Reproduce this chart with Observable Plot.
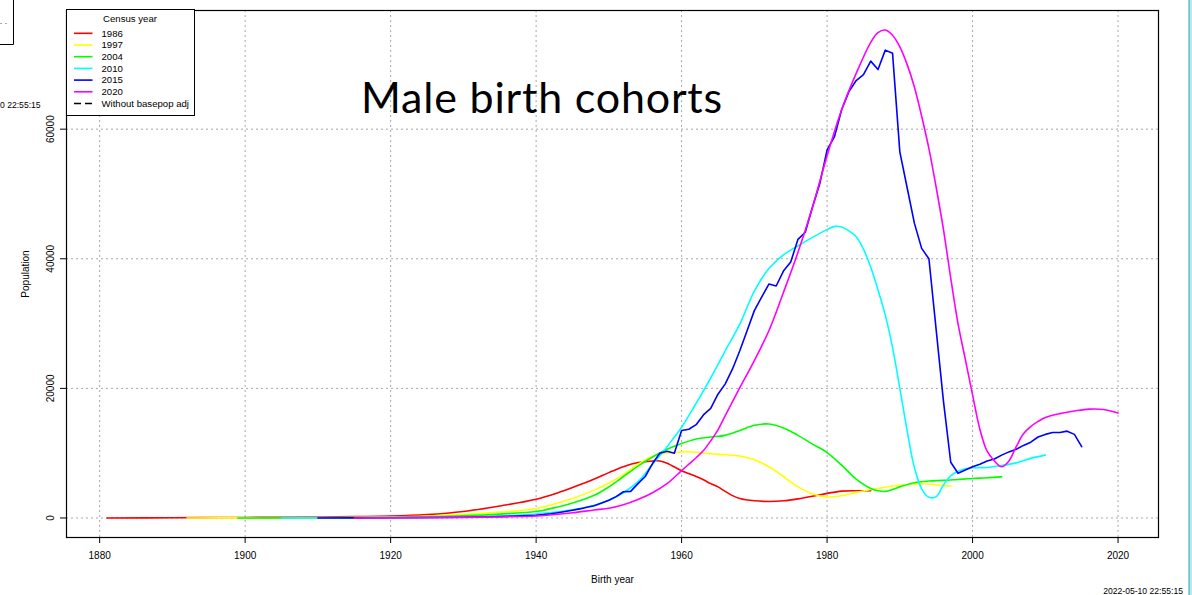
<!DOCTYPE html>
<html>
<head>
<meta charset="utf-8">
<script src="https://cdn.jsdelivr.net/npm/d3@7"></script>
<script src="https://cdn.jsdelivr.net/npm/@observablehq/plot@0.6"></script>
<style>
  html, body { margin: 0; padding: 0; background: #fff; }
  #wrap { position: relative; width: 1192px; height: 595px; overflow: hidden; font-family: "Liberation Sans", Arial, sans-serif; }
  #wrap > svg { display: block; }
  #overlay { position: absolute; left: 0; top: 0; pointer-events: none; }
</style>
</head>
<body>
<div id="wrap"></div>
<script>
// ---- data ----
const censusYears = ["1986", "1997", "2004", "2010", "2015", "2020"];
const lineColors = ["#FF0000", "#FFFF00", "#00FF00", "#00FFFF", "#0000FF", "#FF00FF"];
const legendExtra = "Without basepop adj";
const xTicks = [1880, 1900, 1920, 1940, 1960, 1980, 2000, 2020];
const yTicks = [0, 20000, 40000, 60000];
const chartTitle = "Male birth cohorts";
const stamp = "2022-05-10 22:55:15";

const c1986 = [[1881,0],[1890,30],[1900,80],[1905,110],[1910,150],[1915,210],[1920,290],[1925,520],[1930,1000],[1935,1850],[1940,2900],[1943,3900],[1945,4700],[1948,6000],[1950,7000],[1952,7900],[1954,8550],[1956,8800],[1957,8800],[1958,8450],[1960,7300],[1962,6400],[1963,5900],[1964,5300],[1965,4800],[1966,4100],[1967,3450],[1968,3000],[1970,2650],[1972,2550],[1974,2650],[1976,2950],[1978,3350],[1980,3800],[1982,4150],[1984,4200],[1986,4200]];
const c1997 = [[1892,0],[1900,20],[1910,60],[1915,100],[1920,160],[1925,280],[1930,520],[1935,900],[1940,1450],[1943,2300],[1945,3000],[1948,4300],[1950,5400],[1952,6700],[1954,8300],[1956,9500],[1958,10000],[1960,10200],[1962,10150],[1964,9900],[1966,9750],[1968,9550],[1970,9000],[1972,7900],[1974,6400],[1976,4800],[1978,3700],[1980,3250],[1982,3450],[1984,3950],[1986,4400],[1988,4750],[1990,5050],[1992,5250],[1994,5250],[1996,5000],[1997,4900]];
const c2004 = [[1899,0],[1905,20],[1910,40],[1915,70],[1920,110],[1925,190],[1930,340],[1935,600],[1940,1000],[1943,1700],[1945,2300],[1948,3500],[1950,4800],[1952,6400],[1954,8000],[1956,9400],[1958,10600],[1960,11500],[1962,12200],[1964,12500],[1966,12750],[1968,13500],[1970,14300],[1972,14500],[1974,13900],[1976,12750],[1978,11400],[1980,10100],[1982,8150],[1984,6000],[1986,4550],[1987,4200],[1988,4100],[1989,4400],[1990,4800],[1992,5450],[1994,5700],[1996,5800],[1998,5950],[2000,6100],[2002,6200],[2004,6350]];
const c2010 = [[1905,0],[1910,20],[1915,40],[1920,70],[1925,100],[1930,150],[1935,300],[1940,600],[1943,950],[1945,1250],[1948,1950],[1950,2750],[1952,3900],[1954,5600],[1956,8300],[1958,11000],[1959,12500],[1960,14000],[1962,17700],[1964,21600],[1966,25800],[1968,29900],[1970,35000],[1972,38500],[1974,40600],[1976,42000],[1978,43300],[1980,44500],[1981,45000],[1982,44900],[1983,44300],[1984,43400],[1985,41500],[1986,38700],[1987,35200],[1988,31300],[1989,26300],[1990,20000],[1991,13500],[1992,7800],[1993,4500],[1994,3200],[1995,3300],[1996,5100],[1997,6500],[1998,7200],[1999,7600],[2000,7750],[2002,7800],[2004,8100],[2006,8500],[2008,9200],[2010,9700]];
const c2015 = [[1910,0],[1915,20],[1920,40],[1925,70],[1930,120],[1935,220],[1940,420],[1941,520],[1942,650],[1943,820],[1944,1000],[1945,1200],[1946,1400],[1947,1650],[1948,1900],[1949,2300],[1950,2750],[1951,3300],[1952,4050],[1953,4100],[1954,5300],[1955,6400],[1956,8400],[1957,10000],[1958,10300],[1959,10000],[1960,13500],[1961,13700],[1962,14400],[1963,15900],[1964,16900],[1965,19100],[1966,20700],[1967,23000],[1968,25800],[1969,28900],[1970,32000],[1971,34100],[1972,36100],[1973,35800],[1974,38100],[1975,39500],[1976,43000],[1977,44100],[1978,48000],[1979,51600],[1980,56800],[1981,58800],[1982,63000],[1983,65800],[1984,67500],[1985,68400],[1986,70500],[1987,69200],[1988,72200],[1989,71700],[1990,56500],[1991,51000],[1992,45500],[1993,41600],[1994,40000],[1995,29000],[1996,18000],[1997,8600],[1998,6900],[1999,7400],[2000,7900],[2001,8300],[2002,8800],[2003,9100],[2004,9700],[2005,10200],[2006,10600],[2007,11200],[2008,11700],[2009,12500],[2010,12900],[2011,13200],[2012,13200],[2013,13400],[2014,12900],[2015,11000]];
const c2020 = [[1915,0],[1920,20],[1925,50],[1930,100],[1935,160],[1940,300],[1943,570],[1945,800],[1948,1230],[1950,1500],[1952,2050],[1954,2850],[1956,3900],[1958,5300],[1960,7300],[1961,8300],[1962,9300],[1963,10400],[1964,11900],[1965,13600],[1966,15800],[1968,20100],[1970,24300],[1972,28900],[1974,34800],[1976,41000],[1978,48000],[1980,55900],[1982,63000],[1984,68600],[1986,73400],[1987,74900],[1988,75300],[1989,74500],[1990,72700],[1991,70000],[1992,66500],[1993,62000],[1994,57000],[1995,51000],[1996,44500],[1997,37000],[1998,30000],[1999,24500],[2000,19000],[2001,13700],[2002,10300],[2003,8800],[2004,7900],[2005,8800],[2006,11000],[2007,13000],[2008,14100],[2009,14900],[2010,15500],[2012,16100],[2014,16500],[2016,16800],[2018,16750],[2020,16200]];

const series = [c1986, c1997, c2004, c2010, c2015, c2020];
const jagged = [false, false, false, false, true, false];

// ---- scales (R-style 4% extension) ----
const allX = series.flat().map(d => d[0]);
const allY = series.flat().map(d => d[1]);
const [xMin, xMax] = d3.extent(allX);
const [yMin, yMax] = [Math.min(0, d3.min(allY)), d3.max(allY)];
const xPad = (xMax - xMin) * 0.04;
const yPad = (yMax - yMin) * 0.04;

const lineMarks = series.map((s, i) => Plot.line(s, {
  x: d => d[0], y: d => d[1],
  stroke: lineColors[i], strokeWidth: 1.6,
  curve: jagged[i] ? "linear" : "catmull-rom"
}));

const chart = Plot.plot({
  width: 1192, height: 595,
  marginLeft: 66, marginRight: 34, marginTop: 10, marginBottom: 58,
  style: { fontFamily: "Liberation Sans, Arial, sans-serif", fontSize: "10px", background: "white", color: "black" },
  x: { domain: [xMin - xPad, xMax + xPad] },
  y: { domain: [yMin - yPad, yMax + yPad] },
  marks: [
    Plot.gridX(xTicks, { stroke: "#a8a8a8", strokeOpacity: 1, strokeDasharray: "2,3" }),
    Plot.gridY(yTicks, { stroke: "#a8a8a8", strokeOpacity: 1, strokeDasharray: "2,3" }),
    ...lineMarks,
    Plot.frame({ stroke: "black", strokeWidth: 1.2 }),
    Plot.axisX(xTicks, { tickSize: 6, tickPadding: 8, tickFormat: d => String(d), label: "Birth year", labelAnchor: "center", labelArrow: "none", labelOffset: 45, fontSize: 10 }),
    Plot.axisY(yTicks, { tickSize: 6, tickPadding: 7, tickRotate: -90, tickFormat: d => String(d), label: "Population", labelAnchor: "center", labelArrow: "none", labelOffset: 45, fontSize: 10 })
  ]
});

const wrap = document.getElementById("wrap");
wrap.appendChild(chart);

// ---- overlay: title, legend, annotations ----
const ov = d3.select(wrap).append("svg").attr("id", "overlay")
  .attr("width", 1192).attr("height", 595)
  .style("font-family", "Liberation Sans, Arial, sans-serif");

ov.append("text").attr("x", 542).attr("y", 113).attr("text-anchor", "middle")
  .style("font-family", "Lato, 'Open Sans', sans-serif").style("font-size", "43px")
  .style("letter-spacing", "0.8px").attr("fill", "#000")
  .text(chartTitle);

// legend
const lg = ov.append("g");
lg.append("rect").attr("x", 66.5).attr("y", 9.5).attr("width", 128).attr("height", 106)
  .attr("fill", "white").attr("stroke", "black").attr("stroke-width", 1);
lg.append("text").attr("x", 130).attr("y", 19).attr("dy", "0.35em").attr("text-anchor", "middle")
  .style("font-size", "9.6px").text("Census year");
const legendItems = censusYears.map((c, i) => ({ label: c, color: lineColors[i], dash: null }))
  .concat([{ label: legendExtra, color: "black", dash: "7,4" }]);
legendItems.forEach((it, i) => {
  const y = 33.3 + i * 11.7;
  lg.append("line").attr("x1", 74).attr("x2", 92.5).attr("y1", y).attr("y2", y)
    .attr("stroke", it.color).attr("stroke-width", 1.6).attr("stroke-dasharray", it.dash);
  lg.append("text").attr("x", 101.5).attr("y", y).attr("dy", "0.35em")
    .style("font-size", "9.6px").text(it.label);
});

// neighbouring-panel remnants and timestamp
ov.append("path").attr("d", "M0,44.5H13.5V0").attr("fill", "none").attr("stroke", "black").attr("stroke-width", 1);
ov.append("line").attr("x1", 0).attr("x2", 10).attr("y1", 23.5).attr("y2", 23.5)
  .attr("stroke", "#a8a8a8").attr("stroke-dasharray", "2,3");
ov.append("text").attr("x", 0).attr("y", 105).attr("dy", "0.35em").style("font-size", "8.6px")
  .text(stamp.slice(9));
ov.append("text").attr("x", 1183).attr("y", 591).attr("dy", "0.35em").attr("text-anchor", "end")
  .style("font-size", "8.6px").text(stamp);
ov.append("rect").attr("x", 1188).attr("y", 0).attr("width", 4).attr("height", 595).attr("fill", "#bfe6ee");
ov.append("rect").attr("x", 1188.5).attr("y", 0).attr("width", 1.5).attr("height", 595).attr("fill", "#6cc3d3");
</script>
</body>
</html>
